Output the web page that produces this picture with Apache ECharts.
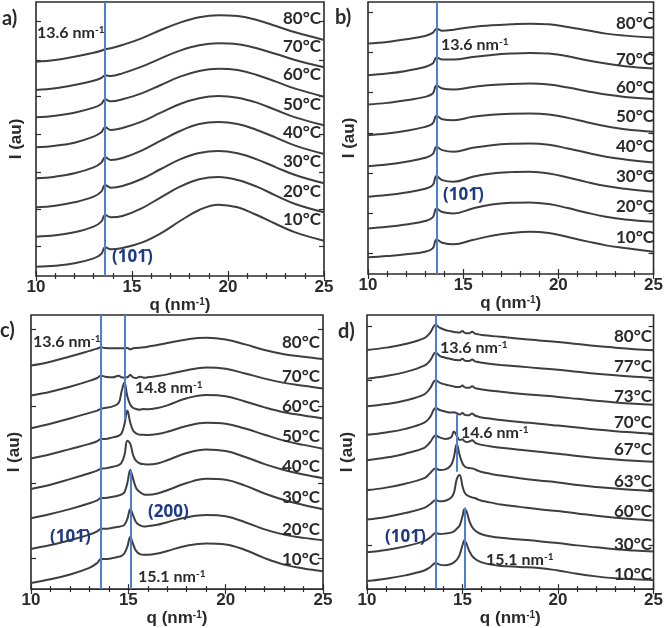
<!DOCTYPE html>
<html>
<head>
<meta charset="utf-8">
<script src="https://cdn.jsdelivr.net/npm/echarts@6.0.0/dist/echarts.min.js"></script>
<style>
  html, body { margin: 0; padding: 0; background: #fff; }
  #chart { width: 666px; height: 628px; }
</style>
</head>
<body>
<div id="chart"></div>
<script>
// q values (nm^-1) used by each panel
const qAB = [10, 11, 12, 13, 13.4, 13.6, 13.9, 14.5, 15.5, 16.5, 17.5, 18.5, 19.5, 20.5, 21.5, 22.5, 23.5, 25];
const qC = [10, 11, 12, 13, 13.4, 13.6, 13.8, 14.2, 14.5, 14.65, 14.8, 14.95, 15.1, 15.25, 15.4, 15.6, 15.8, 16, 16.5, 17, 18, 19, 20, 21, 22, 23, 24, 25];
const qD = [10, 11, 12, 13, 13.3, 13.6, 13.8, 14.1, 14.4, 14.55, 14.7, 14.85, 15.0, 15.1, 15.2, 15.35, 15.5, 15.65, 15.8, 16, 16.5, 17, 18, 19, 20, 21, 22, 23, 24, 25];
const xTickValues = [10, 15, 20, 25];

// panel a) stacked intensities (au, offset)
const a10 = [28, 31, 38, 53, 66, 86, 80, 84, 100, 128, 165, 198, 214, 206, 183, 156, 131, 106];
const a20 = [118, 122, 131, 148, 163, 183, 176, 180, 203, 236, 268, 290, 297, 288, 268, 241, 216, 191];
const a30 = [206, 211, 221, 238, 253, 273, 265, 270, 291, 321, 350, 369, 375, 368, 350, 326, 303, 278];
const a40 = [293, 298, 308, 326, 340, 356, 348, 354, 376, 406, 435, 456, 462, 456, 438, 415, 391, 366];
const a50 = [386, 391, 400, 418, 431, 446, 438, 444, 463, 490, 516, 533, 540, 535, 520, 498, 476, 452];
const a60 = [476, 481, 490, 505, 516, 530, 524, 530, 548, 573, 598, 615, 622, 618, 603, 583, 562, 538];
const a70 = [558, 563, 573, 586, 594, 602, 600, 608, 628, 653, 676, 692, 698, 695, 683, 666, 648, 626];
const a80 = [643, 648, 658, 670, 676, 680, 683, 693, 713, 738, 760, 776, 782, 780, 768, 750, 731, 708];
const tempsA = ['10', '20', '30', '40', '50', '60', '70', '80'];

// panel b)
const b10 = [50, 54, 59, 67, 77, 104, 94, 89, 102, 115, 123, 127, 123, 111, 98, 86, 78, 67];
const b20 = [137, 142, 149, 159, 170, 197, 186, 182, 197, 209, 214, 215, 210, 198, 184, 172, 164, 157];
const b30 = [232, 237, 245, 256, 267, 294, 282, 277, 292, 302, 306, 307, 302, 290, 276, 264, 256, 247];
const b40 = [324, 329, 337, 349, 360, 382, 372, 367, 379, 387, 391, 392, 388, 377, 364, 352, 344, 335];
const b50 = [417, 422, 430, 442, 452, 475, 465, 462, 472, 478, 481, 482, 479, 469, 456, 444, 435, 427];
const b60 = [509, 514, 522, 532, 542, 566, 557, 554, 562, 568, 571, 572, 569, 560, 549, 539, 532, 526];
const b70 = [597, 602, 610, 622, 632, 650, 644, 644, 652, 658, 662, 664, 662, 654, 642, 632, 624, 617];
const b80 = [692, 697, 705, 715, 724, 737, 731, 734, 742, 747, 750, 752, 750, 742, 732, 722, 716, 710];
const tempsB = ['10', '20', '30', '40', '50', '60', '70', '80'];

// panel c)
const c10 = [19, 30, 45, 65, 80, 93, 92, 95, 99, 102, 110, 130, 160, 137, 117, 107, 105, 105, 109, 117, 133, 140, 137, 120, 95, 75, 63, 55];
const c20 = [123, 135, 150, 167, 177, 185, 185, 188, 191, 193, 197, 215, 245, 225, 205, 195, 192, 193, 197, 205, 220, 227, 223, 205, 183, 167, 157, 150];
const c30 = [217, 230, 245, 263, 272, 279, 279, 283, 287, 290, 297, 325, 365, 337, 310, 297, 290, 289, 293, 303, 325, 338, 335, 317, 293, 273, 258, 245];
const c40 = [307, 320, 337, 355, 363, 369, 370, 375, 380, 387, 410, 455, 445, 410, 393, 385, 383, 382, 385, 395, 417, 428, 423, 405, 383, 365, 351, 340];
const c50 = [400, 413, 429, 445, 453, 460, 460, 465, 470, 477, 505, 547, 510, 485, 477, 473, 473, 472, 475, 482, 500, 510, 507, 492, 473, 455, 442, 430];
const c60 = [493, 507, 523, 540, 547, 553, 555, 560, 570, 605, 633, 590, 565, 555, 552, 550, 552, 551, 555, 563, 585, 595, 591, 575, 557, 542, 532, 523];
const c70 = [593, 605, 620, 638, 647, 654, 651, 649, 654, 649, 648, 649, 656, 649, 647, 651, 648, 649, 653, 658, 671, 679, 675, 661, 645, 632, 623, 615];
const c80 = [685, 697, 713, 730, 737, 741, 739, 738, 738, 738, 738, 739, 735, 738, 739, 740, 741, 743, 748, 754, 765, 770, 765, 750, 733, 720, 712, 705];
const tempsC = ['10', '20', '30', '40', '50', '60', '70', '80'];

// panel d)
const d10 = [25, 32, 42, 57, 67, 80, 75, 73, 77, 82, 90, 105, 135, 150, 140, 117, 102, 93, 87, 82, 75, 71, 68, 65, 57, 47, 39, 33, 30, 28];
const d30 = [113, 120, 131, 147, 158, 172, 169, 170, 173, 177, 185, 195, 223, 245, 240, 210, 190, 180, 174, 168, 161, 157, 152, 147, 141, 134, 128, 122, 118, 115];
const d60 = [213, 221, 233, 249, 260, 273, 269, 271, 280, 295, 337, 350, 315, 297, 289, 284, 281, 279, 275, 271, 265, 259, 252, 245, 239, 232, 225, 219, 214, 210];
const d63 = [303, 311, 323, 340, 355, 370, 365, 367, 380, 405, 445, 410, 385, 377, 373, 371, 370, 367, 363, 359, 353, 348, 340, 333, 327, 319, 313, 308, 304, 300];
const d67 = [395, 403, 415, 433, 450, 471, 465, 460, 465, 483, 470, 457, 459, 453, 451, 452, 456, 449, 445, 442, 437, 433, 427, 421, 415, 408, 402, 397, 393, 390];
const d70 = [473, 480, 491, 510, 527, 555, 549, 544, 541, 542, 539, 535, 540, 535, 533, 533, 538, 532, 529, 526, 522, 518, 512, 507, 501, 495, 489, 484, 480, 476];
const d73 = [560, 567, 578, 597, 615, 640, 633, 627, 623, 621, 619, 619, 624, 619, 617, 617, 622, 616, 614, 612, 608, 605, 599, 594, 589, 583, 577, 572, 568, 565];
const d77 = [645, 653, 665, 685, 700, 725, 715, 709, 705, 703, 702, 701, 706, 701, 699, 699, 704, 698, 696, 694, 690, 687, 682, 677, 672, 666, 660, 655, 651, 647];
const d80 = [733, 740, 751, 769, 785, 810, 801, 794, 790, 788, 787, 786, 791, 786, 784, 784, 789, 783, 781, 779, 776, 773, 767, 762, 757, 751, 745, 740, 735, 732];
const tempsD = ['10', '30', '60', '63', '67', '70', '73', '77', '80'];

// reference lines: [q, from, to]
const linesA = [[13.6, 0, 822]];
const linesB = [[13.6, 0, 817]];
const linesC = [[13.6, 0, 840], [14.8, 520, 840], [15.1, 0, 365]];
const linesD = [[13.6, 0, 840], [14.7, 360, 535], [15.1, 0, 250]];

// y tick positions (au)
const yTicksA = [88, 200, 311, 425, 538, 646, 763];
const yTicksB = [62, 182, 302, 422, 547, 667, 787];
const yTicksC = [95, 325, 560, 795];
const yTicksD = [135, 305, 475, 640, 805];

const panels = [
  { grid: { left: 36, top: 2, width: 288, height: 274 }, yMax: 822, q: qAB,
    curves: [a10, a20, a30, a40, a50, a60, a70, a80], lines: linesA, yTicks: yTicksA, xNameGap: 13, yNameGap: 11 },
  { grid: { left: 368, top: 2, width: 289, height: 272 }, yMax: 817, q: qAB,
    curves: [b10, b20, b30, b40, b50, b60, b70, b80], lines: linesB, yTicks: yTicksB, xNameGap: 14, yNameGap: 10 },
  { grid: { left: 31, top: 315, width: 292, height: 280 }, yMax: 840, q: qC,
    curves: [c10, c20, c30, c40, c50, c60, c70, c80], lines: linesC, yTicks: yTicksC, xNameGap: 9, yNameGap: 8 },
  { grid: { left: 367, top: 315, width: 289, height: 280 }, yMax: 840, q: qD,
    curves: [d10, d30, d60, d63, d67, d70, d73, d77, d80], lines: linesD, yTicks: yTicksD, xNameGap: 9, yNameGap: 11 }
];

const ink = '#2b2b2b';
const curveColor = '#3e3e3e';
const blue = '#4a80d8';
const navy = '#1f3a85';
const tickStyle = { color: ink, width: 1.2 };

const grids = [], xAxes = [], yAxes = [], series = [];
panels.forEach((p, k) => {
  grids.push(Object.assign({ show: true, borderColor: ink, borderWidth: 1.6, backgroundColor: 'transparent' }, p.grid));
  const xBase = {
    type: 'value', gridIndex: k, min: 10, max: 25, interval: 5,
    splitLine: { show: false }, axisLine: { show: false },
    axisTick: { inside: true, length: 5, lineStyle: tickStyle },
    minorTick: { show: true, splitNumber: 5, length: 3, lineStyle: tickStyle },
    minorSplitLine: { show: false }
  };
  xAxes.push(Object.assign({}, xBase, {
    position: 'bottom',
    axisLabel: { margin: 3, color: ink, fontSize: 17, fontWeight: 'bold', fontFamily: '"Liberation Sans", Arial, sans-serif', customValues: xTickValues },
    name: 'q (nm{s|-1})', nameLocation: 'middle', nameGap: p.xNameGap,
    nameTextStyle: {
      color: ink, fontSize: 17, fontWeight: 'bold', fontFamily: '"Liberation Sans", Arial, sans-serif',
      rich: { s: { fontSize: 10, fontWeight: 'bold', verticalAlign: 'top', lineHeight: 10, color: ink, fontFamily: '"Liberation Sans", Arial, sans-serif' } }
    }
  }));
  xAxes.push(Object.assign({}, xBase, { position: 'top', axisLabel: { show: false } }));
  const yBase = {
    type: 'value', gridIndex: k, min: 0, max: p.yMax,
    splitLine: { show: false }, axisLine: { show: false }, axisLabel: { show: false },
    axisTick: { show: true, inside: true, length: 5, lineStyle: tickStyle, customValues: p.yTicks }
  };
  yAxes.push(Object.assign({}, yBase, {
    position: 'left', name: 'I (au)', nameLocation: 'middle', nameGap: p.yNameGap,
    nameTextStyle: { color: ink, fontSize: 17, fontWeight: 'bold', fontFamily: '"Liberation Sans", Arial, sans-serif' }
  }));
  yAxes.push(Object.assign({}, yBase, { position: 'right' }));

  p.curves.forEach(c => {
    series.push({
      type: 'line', xAxisIndex: 2 * k, yAxisIndex: 2 * k,
      data: p.q.map((q, j) => [q, c[j]]),
      showSymbol: false, smooth: 0.4, silent: true,
      lineStyle: { color: curveColor, width: 2 }
    });
  });
  series.push({
    type: 'line', xAxisIndex: 2 * k, yAxisIndex: 2 * k, data: [], z: 5, silent: true,
    markLine: {
      symbol: 'none', silent: true, label: { show: false },
      lineStyle: { color: blue, width: 2, type: 'solid' },
      emphasis: { disabled: true },
      data: p.lines.map(l => [{ coord: [l[0], l[1]] }, { coord: [l[0], l[2]] }])
    }
  });
});

// annotations
const fontMain = 'Lato, "Open Sans", sans-serif';
const graphic = [];
function txt(x, y, text, opt) {
  graphic.push({
    type: 'text', x: x, y: y, z: 10, silent: true,
    style: Object.assign({
      text: text, fill: ink, fontSize: 17, fontWeight: 'bold', fontFamily: fontMain,
      align: 'left', verticalAlign: 'middle'
    }, opt || {})
  });
}
const supRich = { s: { fontSize: 10, fontWeight: 'bold', fontFamily: fontMain, fill: ink, color: ink, verticalAlign: 'top', lineHeight: 10 } };
function nm(x, y, v) { txt(x, y, v + ' nm{s|-1}', { rich: supRich, fontSize: 16 }); }
function miller(x, y, t) { txt(x, y, t, { fill: navy, fontSize: 17, fontFamily: '"Noto Sans", "DejaVu Sans", sans-serif' }); }
function temps(x, list, ys) { list.forEach((t, i) => txt(x, ys[i], t + '°C', { align: 'right' })); }

// panel a
txt(2, 19, 'a)', { fontSize: 20 });
nm(37, 33, '13.6');
miller(112, 257, '(10\u0031\u0304)');
temps(321, tempsA, [220, 192, 162, 133, 105, 75, 47, 19]);
// panel b
txt(335, 18, 'b)', { fontSize: 20 });
nm(441, 45, '13.6');
miller(443, 195, '(10\u0031\u0304)');
temps(654, tempsB, [238, 207, 177, 147, 117, 88, 60, 24]);
// panel c
txt(0, 331, 'c)', { fontSize: 20 });
nm(33, 342, '13.6');
nm(135, 388, '14.8');
nm(138, 577, '15.1');
miller(148, 512, '(200)');
miller(50, 537, '(10\u0031\u0304)');
temps(320, tempsC, [560, 530, 498, 467, 437, 407, 377, 343]);
// panel d
txt(338, 332, 'd)', { fontSize: 20 });
nm(440, 348, '13.6');
nm(461, 433, '14.6');
nm(486, 560, '15.1');
miller(385, 537, '(10\u0031\u0304)');
temps(652, tempsD, [575, 545, 512, 482, 450, 423, 397, 367, 337]);

const chart = echarts.init(document.getElementById('chart'), null, { renderer: 'canvas' });
chart.setOption({
  animation: false,
  backgroundColor: '#ffffff',
  grid: grids,
  xAxis: xAxes,
  yAxis: yAxes,
  series: series,
  graphic: graphic
});
</script>
</body>
</html>
